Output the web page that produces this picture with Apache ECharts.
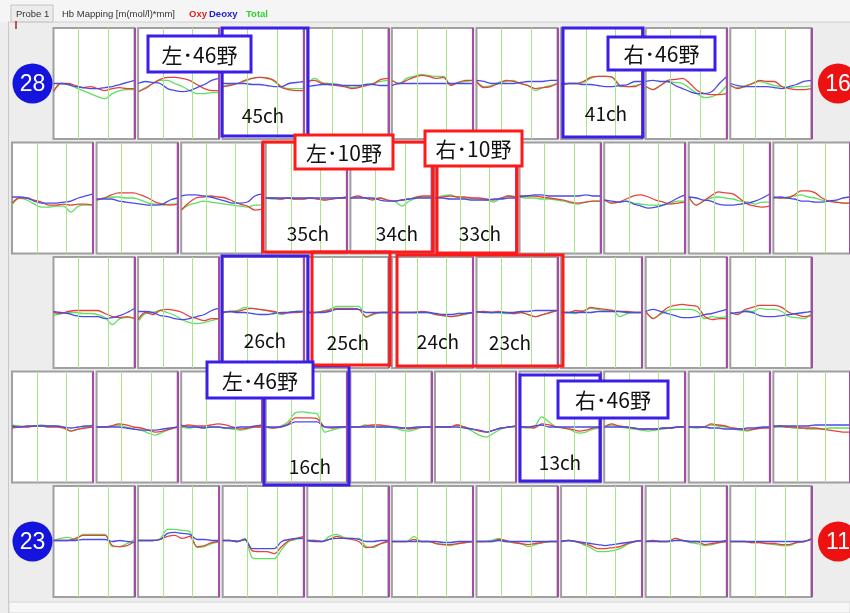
<!DOCTYPE html>
<html>
<head>
<meta charset="utf-8">
<script src="https://cdn.jsdelivr.net/npm/echarts@6/dist/echarts.min.js"></script>
<style>
  html, body { margin: 0; padding: 0; background: #eeeeee; }
  #chart { width: 850px; height: 613px; }
</style>
</head>
<body>
<div id="chart"></div>
<script>
// Block-average Hb traces, one small panel per channel (time in s, values in mmol/l*mm)
const timeSec = [0, 5, 10, 15, 20, 25, 30, 35, 40, 45, 50, 55];
const taskMarks = [17, 37];     // task start / end
const blockEnd = 55;

// ---- Row 1 ----
const channelsRow1 = [47, 46, 45, 44, 43, 42, 41, 40, 39];
const oxyRow1 = [
  [-0.08, 0.0, 0.0, -0.02, -0.04, -0.03, -0.05, -0.07, -0.05, -0.04, -0.05, -0.05],
  [-0.08, -0.05, 0.0, 0.04, 0.06, 0.06, 0.05, 0.03, -0.01, -0.05, -0.07, -0.07],
  [-0.03, -0.02, 0.0, 0.03, 0.05, 0.06, 0.05, 0.03, -0.04, -0.06, -0.07, -0.07],
  [0.02, 0.03, 0.0, -0.01, -0.02, -0.03, -0.05, -0.04, -0.02, 0.0, 0.04, 0.05],
  [0.03, 0.0, 0.03, 0.06, 0.08, 0.07, 0.05, 0.06, -0.02, 0.01, 0.03, 0.03],
  [0.02, -0.04, -0.03, 0.0, 0.03, 0.02, 0.0, -0.02, -0.05, -0.04, -0.03, 0.0],
  [-0.02, 0.0, 0.0, 0.02, 0.06, 0.07, 0.07, 0.06, -0.02, -0.03, -0.03, 0.0],
  [-0.03, -0.06, -0.02, 0.03, 0.04, 0.05, 0.0, -0.07, -0.1, -0.11, -0.11, -0.1],
  [-0.02, -0.05, -0.03, 0.0, 0.03, 0.02, 0.02, -0.03, -0.05, -0.06, -0.06, -0.05]
];
const deoxyRow1 = [
  [0.0, 0.0, -0.01, -0.03, -0.04, -0.05, -0.05, -0.04, -0.03, -0.01, 0.01, 0.03],
  [0.0, 0.02, 0.01, 0.0, -0.05, -0.07, -0.08, -0.07, -0.04, -0.01, 0.03, 0.05],
  [0.0, 0.0, 0.0, 0.0, -0.01, -0.01, -0.02, -0.03, -0.03, 0.0, 0.01, 0.02],
  [-0.03, -0.02, -0.01, -0.01, -0.01, -0.02, -0.02, -0.02, -0.01, -0.01, -0.02, -0.02],
  [-0.02, 0.0, 0.0, 0.0, 0.0, 0.0, 0.0, 0.0, 0.0, 0.0, 0.0, 0.0],
  [0.03, 0.02, 0.0, 0.0, 0.0, 0.0, 0.01, 0.02, 0.02, 0.02, 0.03, 0.03],
  [0.0, 0.0, 0.0, -0.01, -0.01, -0.02, -0.03, -0.03, -0.02, -0.01, 0.02, 0.02],
  [0.02, 0.03, 0.02, 0.02, -0.02, -0.05, -0.08, -0.1, -0.1, -0.08, 0.0, 0.07],
  [0.0, -0.02, -0.03, -0.03, -0.03, -0.03, -0.04, -0.05, -0.03, -0.01, 0.02, 0.03]
];
const totalRow1 = [
  [-0.08, 0.0, -0.01, -0.04, -0.07, -0.1, -0.13, -0.15, -0.1, -0.07, -0.06, -0.06],
  [-0.08, -0.04, 0.0, 0.03, 0.03, 0.0, -0.03, -0.07, -0.1, -0.1, -0.09, -0.09],
  [-0.03, -0.01, 0.0, 0.02, 0.05, 0.06, 0.06, 0.02, -0.03, -0.05, -0.05, -0.05],
  [0.0, 0.05, 0.01, 0.0, -0.01, -0.02, -0.04, -0.03, -0.01, 0.0, 0.02, 0.03],
  [0.03, 0.0, 0.05, 0.07, 0.09, 0.08, 0.07, 0.07, -0.01, 0.01, 0.02, 0.03],
  [0.02, -0.03, -0.02, 0.01, 0.02, 0.03, 0.0, -0.02, -0.07, -0.04, -0.02, 0.0],
  [-0.02, 0.0, 0.0, 0.01, 0.05, 0.07, 0.07, 0.06, -0.03, -0.03, -0.02, 0.0],
  [-0.03, -0.06, -0.02, 0.02, 0.01, 0.0, -0.05, -0.1, -0.14, -0.13, -0.1, -0.02],
  [-0.02, -0.04, -0.02, 0.0, 0.02, 0.0, -0.02, -0.03, -0.04, -0.03, -0.03, -0.02]
];

// ---- Row 2 ----
const channelsRow2 = [38, 37, 36, 35, 34, 33, 32, 31, 30, 29];
const oxyRow2 = [
  [-0.05, 0.0, 0.0, -0.02, -0.04, -0.07, -0.07, -0.06, -0.07, -0.06, -0.06, -0.07],
  [-0.02, 0.0, 0.03, 0.05, 0.05, 0.05, 0.03, 0.0, -0.04, -0.06, -0.07, -0.06],
  [-0.12, -0.05, 0.0, 0.01, 0.02, 0.01, 0.0, -0.03, -0.06, -0.08, -0.12, -0.11],
  [0.0, 0.0, -0.01, 0.0, -0.01, -0.01, 0.0, -0.01, -0.02, -0.01, 0.0, 0.0],
  [0.0, 0.02, 0.0, -0.02, 0.0, -0.02, -0.03, -0.02, -0.01, 0.01, 0.02, 0.02],
  [0.0, 0.01, 0.02, 0.01, 0.01, 0.0, 0.0, -0.01, -0.02, 0.0, 0.02, 0.01],
  [0.01, 0.02, 0.02, 0.01, 0.0, -0.01, -0.02, -0.04, -0.05, -0.04, -0.03, -0.03],
  [-0.02, -0.05, -0.04, -0.01, 0.02, 0.03, 0.01, -0.02, -0.04, -0.06, -0.05, -0.04],
  [0.01, -0.07, -0.03, 0.02, 0.06, 0.05, 0.04, -0.01, -0.06, -0.08, -0.09, -0.08],
  [0.01, 0.0, 0.0, 0.03, 0.07, 0.07, 0.05, 0.0, -0.03, -0.04, -0.05, -0.05]
];
const deoxyRow2 = [
  [0.01, 0.01, 0.0, -0.03, -0.05, -0.05, -0.05, -0.04, -0.03, 0.0, 0.02, 0.04],
  [-0.01, -0.01, -0.01, -0.03, -0.04, -0.05, -0.06, -0.07, -0.07, -0.06, -0.02, 0.0],
  [0.02, 0.03, 0.03, 0.02, 0.01, -0.01, -0.03, -0.05, -0.05, -0.04, 0.02, 0.04],
  [0.0, 0.0, 0.0, 0.0, 0.0, 0.0, 0.0, 0.0, 0.0, 0.0, 0.0, 0.01],
  [0.0, 0.0, 0.0, 0.0, -0.02, -0.03, -0.03, -0.02, -0.01, 0.0, 0.0, 0.0],
  [0.0, 0.0, -0.01, -0.01, -0.01, -0.02, -0.02, -0.02, -0.01, -0.01, 0.0, 0.0],
  [0.02, 0.02, 0.03, 0.03, 0.02, 0.02, 0.02, 0.02, 0.02, 0.03, 0.02, 0.02],
  [-0.02, -0.03, -0.04, -0.03, -0.06, -0.08, -0.1, -0.09, -0.07, -0.04, 0.0, 0.03],
  [0.01, 0.0, -0.02, -0.03, -0.06, -0.07, -0.07, -0.06, -0.05, -0.03, 0.0, 0.04],
  [0.0, 0.01, 0.0, -0.01, -0.03, -0.03, -0.04, -0.04, -0.03, -0.02, 0.0, 0.01]
];
const totalRow2 = [
  [-0.07, 0.0, -0.02, -0.06, -0.09, -0.09, -0.08, -0.08, -0.14, -0.08, -0.07, -0.07],
  [-0.02, 0.0, 0.01, 0.01, 0.0, 0.0, -0.02, -0.05, -0.06, -0.07, -0.06, -0.06],
  [-0.12, -0.07, -0.05, -0.03, -0.04, -0.05, -0.06, -0.07, -0.08, -0.09, -0.07, -0.07],
  [0.0, -0.01, -0.01, 0.0, -0.01, -0.01, 0.0, -0.01, -0.02, -0.01, 0.0, 0.0],
  [0.0, 0.01, 0.0, -0.01, 0.0, -0.02, -0.03, -0.08, -0.03, 0.0, 0.01, 0.01],
  [0.0, 0.02, 0.03, 0.01, 0.0, 0.0, -0.01, -0.02, -0.04, 0.0, 0.02, 0.01],
  [0.01, 0.0, 0.0, -0.01, -0.01, -0.02, -0.03, -0.05, -0.06, -0.04, -0.03, -0.03],
  [-0.02, -0.05, -0.04, -0.03, -0.05, -0.06, -0.07, -0.07, -0.07, -0.05, -0.03, -0.03],
  [0.01, -0.07, -0.03, 0.0, 0.01, 0.0, -0.01, -0.03, -0.04, -0.06, -0.04, -0.04],
  [0.01, 0.0, 0.01, 0.02, 0.03, 0.01, 0.0, -0.02, -0.03, -0.04, -0.05, -0.05]
];

// ---- Row 3 ----
const channelsRow3 = [28, 27, 26, 25, 24, 23, 22, 21, 20];
const oxyRow3 = [
  [0.0, -0.01, 0.01, 0.02, 0.02, 0.02, 0.02, -0.01, -0.04, -0.05, -0.04, -0.06],
  [-0.07, 0.0, -0.02, 0.02, 0.03, 0.02, 0.0, -0.04, -0.06, -0.08, -0.06, -0.06],
  [0.0, 0.01, 0.01, 0.03, 0.04, 0.03, 0.02, 0.01, -0.01, 0.0, 0.0, 0.01],
  [0.0, 0.0, 0.01, 0.02, 0.04, 0.04, 0.04, 0.03, -0.04, -0.01, 0.0, 0.0],
  [0.0, 0.0, 0.0, 0.0, 0.01, 0.0, -0.02, -0.03, -0.04, -0.03, -0.01, 0.0],
  [0.0, 0.01, 0.0, 0.01, 0.0, -0.01, 0.0, -0.02, -0.04, -0.02, 0.0, 0.02],
  [0.0, 0.0, 0.02, 0.01, 0.05, 0.04, 0.03, 0.02, 0.01, 0.01, 0.0, 0.0],
  [0.01, -0.06, -0.01, 0.05, 0.07, 0.08, 0.07, 0.06, -0.04, -0.07, -0.06, -0.06],
  [0.0, -0.02, 0.03, 0.05, 0.07, 0.07, 0.07, 0.05, 0.0, -0.02, -0.04, -0.03]
];
const deoxyRow3 = [
  [0.01, 0.0, -0.01, -0.03, -0.04, -0.04, -0.04, -0.06, -0.05, -0.03, 0.0, 0.04],
  [0.01, 0.01, 0.0, -0.03, -0.04, -0.06, -0.07, -0.06, -0.04, -0.02, 0.02, 0.04],
  [0.0, 0.01, 0.0, 0.0, -0.01, -0.02, -0.02, -0.01, 0.0, 0.0, 0.01, 0.01],
  [0.0, 0.0, 0.0, 0.01, 0.03, 0.03, 0.03, 0.03, 0.0, 0.0, 0.0, 0.0],
  [0.0, 0.0, 0.0, 0.0, 0.0, 0.0, -0.01, -0.02, -0.02, -0.01, -0.01, 0.0],
  [0.01, 0.0, 0.0, 0.0, 0.0, 0.0, 0.01, 0.01, 0.02, 0.02, 0.02, 0.02],
  [0.0, 0.0, 0.0, 0.0, 0.0, 0.01, 0.01, 0.01, 0.01, 0.0, 0.0, 0.0],
  [0.01, 0.03, 0.01, -0.01, -0.03, -0.05, -0.05, -0.04, -0.02, -0.01, 0.01, 0.03],
  [-0.01, 0.0, 0.01, 0.0, -0.03, -0.04, -0.04, -0.03, -0.02, -0.01, 0.0, 0.01]
];
const totalRow3 = [
  [-0.03, -0.01, 0.0, 0.0, -0.01, -0.01, -0.02, -0.05, -0.12, -0.06, -0.05, -0.05],
  [-0.09, -0.01, 0.0, 0.02, 0.0, -0.03, -0.07, -0.1, -0.11, -0.1, -0.08, -0.06],
  [0.0, 0.01, 0.02, 0.05, 0.04, 0.03, 0.02, 0.0, -0.02, 0.0, 0.01, 0.01],
  [0.0, 0.0, 0.01, 0.03, 0.06, 0.06, 0.06, 0.06, -0.05, -0.02, 0.0, 0.0],
  [0.0, 0.0, 0.0, 0.0, 0.0, 0.0, -0.02, -0.03, -0.04, -0.03, -0.02, 0.0],
  [0.0, 0.01, 0.0, 0.0, -0.01, -0.01, 0.0, -0.02, -0.04, -0.02, 0.0, 0.02],
  [0.0, 0.0, -0.01, 0.02, 0.04, 0.03, 0.02, 0.02, -0.04, -0.01, 0.0, 0.0],
  [0.01, -0.06, -0.02, 0.02, 0.03, 0.03, 0.03, 0.01, -0.06, -0.04, -0.05, -0.04],
  [0.0, -0.02, 0.02, 0.01, 0.04, 0.03, 0.03, 0.01, -0.04, -0.05, -0.06, -0.01]
];

// ---- Row 4 ----
const channelsRow4 = [19, 18, 17, 16, 15, 14, 13, 12, 11, 10];
const oxyRow4 = [
  [-0.01, 0.0, 0.0, 0.01, 0.01, 0.0, 0.0, -0.01, -0.04, -0.02, -0.01, 0.0],
  [0.0, 0.0, 0.01, 0.03, 0.02, 0.0, -0.01, -0.03, -0.05, -0.04, -0.02, 0.0],
  [0.0, 0.02, 0.01, 0.01, 0.02, 0.03, 0.02, 0.0, -0.02, -0.01, 0.0, 0.0],
  [0.0, -0.01, 0.0, 0.03, 0.09, 0.09, 0.09, 0.08, 0.0, -0.01, 0.0, 0.0],
  [0.0, 0.0, 0.01, 0.02, 0.02, 0.01, 0.0, -0.01, -0.02, -0.01, 0.0, 0.0],
  [0.0, 0.0, 0.0, 0.02, 0.0, -0.02, -0.04, -0.05, -0.03, -0.01, 0.0, 0.01],
  [0.0, 0.0, -0.01, 0.03, 0.02, 0.0, -0.01, -0.02, -0.04, -0.03, -0.01, 0.0],
  [0.0, 0.03, 0.01, 0.0, -0.01, -0.02, -0.02, -0.02, -0.01, -0.01, 0.0, 0.0],
  [0.0, 0.0, 0.0, 0.03, 0.02, 0.01, -0.01, -0.02, -0.03, -0.02, -0.01, -0.01],
  [0.0, 0.01, 0.0, 0.0, -0.01, -0.01, -0.01, -0.02, -0.03, -0.04, -0.05, -0.05]
];
const deoxyRow4 = [
  [0.01, 0.0, 0.01, 0.01, 0.01, 0.01, 0.01, 0.0, -0.01, 0.0, 0.01, 0.01],
  [0.0, 0.0, 0.0, 0.0, -0.01, -0.02, -0.03, -0.03, -0.03, -0.02, -0.01, 0.0],
  [0.02, 0.0, 0.0, -0.01, 0.0, 0.0, -0.01, -0.01, 0.0, 0.0, 0.01, 0.02],
  [0.0, 0.0, 0.0, 0.02, 0.05, 0.05, 0.05, 0.05, 0.0, 0.0, 0.0, 0.0],
  [0.0, 0.0, 0.0, 0.0, 0.0, 0.0, 0.0, -0.01, -0.01, 0.0, 0.0, 0.0],
  [0.0, 0.0, 0.0, 0.0, -0.01, -0.02, -0.03, -0.05, -0.03, -0.01, 0.0, 0.01],
  [0.0, 0.0, 0.01, 0.02, 0.0, 0.0, 0.0, 0.0, 0.0, 0.0, 0.0, 0.0],
  [0.0, 0.0, 0.0, 0.0, -0.01, -0.02, -0.02, -0.02, -0.01, -0.01, 0.0, 0.0],
  [0.0, 0.0, 0.0, -0.01, -0.01, -0.02, -0.02, -0.02, -0.01, -0.01, 0.0, 0.0],
  [0.01, 0.01, 0.01, 0.01, 0.01, 0.01, 0.02, 0.02, 0.02, 0.02, 0.02, 0.02]
];
const totalRow4 = [
  [0.02, 0.01, 0.0, 0.01, 0.02, 0.01, 0.01, 0.0, -0.04, -0.02, 0.0, 0.02],
  [0.0, 0.0, 0.01, 0.02, 0.0, -0.02, -0.03, -0.06, -0.08, -0.05, -0.02, 0.0],
  [0.0, -0.01, 0.0, 0.0, 0.0, 0.0, -0.01, -0.02, -0.03, -0.02, 0.0, 0.0],
  [0.0, -0.01, 0.01, 0.05, 0.14, 0.15, 0.14, 0.13, -0.05, -0.03, -0.01, 0.0],
  [0.0, 0.0, 0.02, 0.01, 0.0, 0.0, -0.01, -0.03, -0.04, -0.02, 0.0, 0.0],
  [0.0, 0.0, 0.0, 0.02, 0.0, -0.04, -0.08, -0.1, -0.06, -0.02, 0.0, 0.0],
  [0.0, -0.01, 0.0, 0.1, 0.05, 0.0, -0.01, -0.03, -0.06, -0.05, -0.02, -0.01],
  [0.0, 0.02, 0.0, -0.01, -0.02, -0.03, -0.04, -0.03, -0.02, -0.01, 0.0, 0.0],
  [0.0, -0.01, 0.0, 0.02, 0.01, 0.0, -0.02, -0.03, -0.04, -0.02, -0.01, 0.0],
  [0.0, 0.0, 0.0, -0.01, -0.01, -0.02, -0.02, -0.02, -0.01, -0.01, -0.01, -0.01]
];

// ---- Row 5 ----
const channelsRow5 = [9, 8, 7, 6, 5, 4, 3, 2, 1];
const oxyRow5 = [
  [0.01, 0.01, 0.01, 0.03, 0.06, 0.06, 0.06, 0.06, -0.04, -0.05, -0.04, 0.0],
  [0.01, 0.01, 0.01, 0.02, 0.05, 0.06, 0.03, 0.05, -0.05, -0.04, -0.01, 0.0],
  [0.01, 0.01, 0.0, 0.02, -0.09, -0.1, -0.1, -0.12, -0.05, 0.01, 0.03, 0.05],
  [0.01, 0.01, 0.0, 0.02, 0.05, 0.03, 0.02, 0.0, -0.06, -0.05, -0.02, 0.0],
  [0.0, 0.0, 0.0, 0.02, 0.0, 0.0, -0.02, -0.03, -0.03, -0.02, -0.01, 0.0],
  [0.0, 0.0, 0.0, 0.02, 0.01, -0.01, -0.02, -0.03, -0.02, -0.01, 0.0, 0.0],
  [0.0, 0.01, 0.0, -0.02, -0.04, -0.07, -0.07, -0.06, -0.05, -0.02, 0.0, 0.01],
  [0.0, 0.01, 0.0, 0.0, 0.03, 0.01, 0.0, 0.0, -0.03, -0.02, -0.01, 0.0],
  [0.0, 0.0, 0.0, -0.01, -0.01, -0.02, -0.02, -0.03, -0.03, -0.01, 0.0, 0.03]
];
const deoxyRow5 = [
  [0.01, 0.01, 0.01, 0.01, 0.02, 0.02, 0.02, 0.02, 0.0, 0.01, 0.0, -0.01],
  [0.01, 0.01, 0.01, 0.02, 0.08, 0.09, 0.08, 0.07, 0.02, 0.02, 0.01, 0.01],
  [0.01, 0.01, 0.0, 0.02, -0.07, -0.07, -0.07, -0.07, 0.0, 0.02, 0.03, 0.03],
  [0.01, 0.0, 0.0, 0.02, 0.03, 0.03, 0.03, 0.02, 0.0, 0.0, 0.01, 0.01],
  [0.0, 0.0, 0.0, 0.0, 0.0, 0.0, 0.0, -0.01, -0.01, 0.0, 0.0, 0.0],
  [0.0, 0.0, 0.0, 0.01, 0.0, 0.0, 0.0, 0.0, 0.0, 0.0, 0.0, 0.0],
  [0.0, 0.01, 0.0, -0.01, -0.02, -0.03, -0.04, -0.03, -0.02, -0.01, 0.0, 0.01],
  [0.0, 0.0, 0.0, 0.0, 0.01, 0.01, 0.0, 0.0, 0.0, 0.0, 0.0, 0.01],
  [0.0, 0.0, 0.0, 0.0, 0.0, 0.0, 0.0, 0.0, 0.0, 0.0, 0.0, 0.02]
];
const totalRow5 = [
  [0.01, 0.03, 0.04, 0.02, 0.07, 0.07, 0.07, 0.07, -0.05, -0.05, -0.02, 0.02],
  [0.01, 0.01, 0.01, 0.03, 0.12, 0.12, 0.11, 0.1, -0.06, -0.05, -0.02, 0.0],
  [0.01, 0.01, 0.0, 0.03, -0.16, -0.17, -0.17, -0.17, -0.08, 0.0, 0.02, 0.03],
  [0.01, 0.01, 0.0, 0.05, 0.07, 0.04, 0.03, 0.03, -0.05, -0.06, -0.02, 0.01],
  [0.0, 0.0, 0.0, 0.05, 0.0, 0.0, -0.02, -0.03, -0.04, -0.02, -0.01, 0.0],
  [0.0, 0.0, 0.01, 0.03, 0.0, -0.01, -0.02, -0.05, -0.03, -0.01, 0.0, 0.0],
  [0.0, 0.01, 0.0, -0.03, -0.06, -0.1, -0.1, -0.09, -0.07, -0.03, 0.0, 0.01],
  [0.0, 0.01, 0.0, 0.0, 0.03, 0.01, -0.01, -0.02, -0.04, -0.03, -0.01, 0.0],
  [0.0, 0.0, 0.0, -0.01, -0.01, -0.02, -0.03, -0.04, -0.04, -0.01, 0.0, 0.03]
];

// Colours of the three Hb signals
const OXY_COLOR = '#e8413c';
const DEOXY_COLOR = '#4b4be6';
const TOTAL_COLOR = '#5fe05f';
const FRAME_BLUE = '#3a1fe6';
const FRAME_RED = '#ff1a1a';
const JP_FONT = '"Noto Sans CJK JP", "Noto Sans", sans-serif';

const rows = [
  { ch: channelsRow1, oxy: oxyRow1, deoxy: deoxyRow1, total: totalRow1 },
  { ch: channelsRow2, oxy: oxyRow2, deoxy: deoxyRow2, total: totalRow2 },
  { ch: channelsRow3, oxy: oxyRow3, deoxy: deoxyRow3, total: totalRow3 },
  { ch: channelsRow4, oxy: oxyRow4, deoxy: deoxyRow4, total: totalRow4 },
  { ch: channelsRow5, oxy: oxyRow5, deoxy: deoxyRow5, total: totalRow5 }
];

// Panel layout (staggered probe grid)
const ROW_TOP = [28, 142.5, 257, 371.5, 486];
const ROW_LEFT = [53.5, 12, 53.5, 12, 53.5];
const PITCH = 84.6, PANEL_W = 81, PANEL_H = 111;

const grid = [], xAxis = [], yAxis = [], series = [];

rows.forEach((row, r) => {
  row.ch.forEach((ch, i) => {
    const k = grid.length;
    grid.push({
      left: ROW_LEFT[r] + i * PITCH, top: ROW_TOP[r],
      width: PANEL_W, height: PANEL_H,
      show: true, backgroundColor: '#ffffff',
      borderColor: '#a0a0a0', borderWidth: 2
    });
    xAxis.push({ gridIndex: k, type: 'value', min: 0, max: blockEnd, show: false });
    yAxis.push({ gridIndex: k, type: 'value', min: -0.55, max: 0.55, show: false });

    const pts = arr => timeSec.map((t, j) => [t, arr[i][j]]);
    const base = {
      type: 'line', xAxisIndex: k, yAxisIndex: k,
      showSymbol: false, symbol: 'none', smooth: 0.3,
      silent: true, animation: false
    };
    series.push(Object.assign({}, base, {
      name: 'Total ' + ch, data: pts(row.total),
      lineStyle: { color: TOTAL_COLOR, width: 1.3 },
      markLine: {
        silent: true, symbol: 'none', animation: false, label: { show: false },
        data: [
          { xAxis: taskMarks[0], lineStyle: { color: '#a6e58a', width: 1, type: 'solid' } },
          { xAxis: taskMarks[1], lineStyle: { color: '#a6e58a', width: 1, type: 'solid' } },
          { xAxis: blockEnd, lineStyle: { color: '#a24ea6', width: 2, type: 'solid' } }
        ]
      }
    }));
    series.push(Object.assign({}, base, {
      name: 'Oxy ' + ch, data: pts(row.oxy),
      lineStyle: { color: OXY_COLOR, width: 1.3 }
    }));
    series.push(Object.assign({}, base, {
      name: 'Deoxy ' + ch, data: pts(row.deoxy),
      lineStyle: { color: DEOXY_COLOR, width: 1.3 }
    }));
  });
});

// Overlay: header, probe numbers, region frames and channel labels
function frame(x, y, w, h, color) {
  return { type: 'rect', z: 100, silent: true, shape: { x, y, width: w, height: h },
           style: { fill: 'none', stroke: color, lineWidth: 3 } };
}
function tag(x, y, w, h, color, text) {
  return [
    { type: 'rect', z: 110, silent: true, shape: { x, y, width: w, height: h },
      style: { fill: '#ffffff', stroke: color, lineWidth: 3 } },
    { type: 'text', z: 111, silent: true,
      style: { x: x + w / 2, y: y + h / 2 + 1, text, fill: '#111',
               font: '21px ' + JP_FONT, align: 'center', verticalAlign: 'middle' } }
  ];
}
function chLabel(x, y, text) {
  return { type: 'text', z: 105, silent: true,
           style: { x, y, text, fill: '#111', font: '19px ' + JP_FONT,
                    align: 'center', verticalAlign: 'middle' } };
}
function probe(cx, cy, color, text) {
  return [
    { type: 'circle', z: 100, silent: true, shape: { cx, cy, r: 20 }, style: { fill: color } },
    { type: 'text', z: 101, silent: true,
      style: { x: cx, y: cy + 1, text, fill: '#fff', font: '23px "Liberation Sans", Arial, sans-serif',
               align: 'center', verticalAlign: 'middle' } }
  ];
}
function small(x, text, color, bold) {
  return { type: 'text', z: 100, silent: true,
           style: { x, y: 14, text, fill: color,
                    font: (bold ? 'bold ' : '') + '9.5px "Liberation Sans", Arial, sans-serif',
                    align: 'left', verticalAlign: 'middle' } };
}

const graphic = [
  // header strip and tab
  { type: 'rect', z: 90, silent: true, shape: { x: 0, y: 0, width: 850, height: 22 }, style: { fill: '#f5f5f5' } },
  { type: 'rect', z: 91, silent: true, shape: { x: 11, y: 5, width: 42, height: 17 },
    style: { fill: '#ececec', stroke: '#c4c4c4', lineWidth: 1 } },
  { type: 'line', z: 91, silent: true, shape: { x1: 8, y1: 22, x2: 850, y2: 22 }, style: { stroke: '#cfcfcf', lineWidth: 1 } },
  small(16, 'Probe 1', '#333', false),
  small(62, 'Hb Mapping [m(mol/l)*mm]', '#333', false),
  small(189, 'Oxy', '#e02020', true),
  small(209, 'Deoxy', '#2020d0', true),
  small(246, 'Total', '#30d030', true),
  { type: 'line', z: 91, silent: true, shape: { x1: 16, y1: 21, x2: 16, y2: 29 }, style: { stroke: '#b02020', lineWidth: 1.5 } },
  // left border and bottom strip of the plot area
  { type: 'line', z: 91, silent: true, shape: { x1: 8.5, y1: 22, x2: 8.5, y2: 613 }, style: { stroke: '#c8c8c8', lineWidth: 1 } },
  { type: 'rect', z: 91, silent: true, shape: { x: 9, y: 602, width: 841, height: 11 },
    style: { fill: '#f7f7f7', stroke: '#d4d4d4', lineWidth: 1 } },

  // probe numbers
  ...probe(32.5, 83.5, '#1414dc', '28'),
  ...probe(838, 83.5, '#ee1111', '16'),
  ...probe(32.5, 541.5, '#1414dc', '23'),
  ...probe(838, 541.5, '#ee1111', '11'),

  // region frames
  frame(222, 28, 86, 108, FRAME_BLUE),
  frame(563, 28, 80, 109, FRAME_BLUE),
  frame(222, 256, 86, 109, FRAME_BLUE),
  frame(264, 366, 85, 119, FRAME_BLUE),
  frame(520, 375, 80, 106, FRAME_BLUE),
  frame(263, 142, 170, 110, FRAME_RED),
  frame(437, 145, 80, 108, FRAME_RED),
  frame(312, 252, 78, 113, FRAME_RED),
  frame(397, 255, 166, 111, FRAME_RED),

  // channel labels
  chLabel(263, 116, '45ch'),
  chLabel(606, 114, '41ch'),
  chLabel(308, 234, '35ch'),
  chLabel(397, 234, '34ch'),
  chLabel(480, 234, '33ch'),
  chLabel(265, 341, '26ch'),
  chLabel(348, 343, '25ch'),
  chLabel(438, 342, '24ch'),
  chLabel(510, 343, '23ch'),
  chLabel(310, 467, '16ch'),
  chLabel(560, 463, '13ch'),

  // region tags
  ...tag(148, 36, 103, 36, FRAME_BLUE, '左･46野'),
  ...tag(608, 37, 107, 33, FRAME_BLUE, '右･46野'),
  ...tag(295, 135, 98, 34, FRAME_RED, '左･10野'),
  ...tag(425, 131, 97, 35, FRAME_RED, '右･10野'),
  ...tag(207, 362, 106, 36, FRAME_BLUE, '左･46野'),
  ...tag(558, 381, 110, 37, FRAME_BLUE, '右･46野')
];

const chart = echarts.init(document.getElementById('chart'), null, { renderer: 'canvas' });
chart.setOption({
  animation: false,
  backgroundColor: '#ededed',
  grid, xAxis, yAxis, series, graphic
});
</script>
</body>
</html>
